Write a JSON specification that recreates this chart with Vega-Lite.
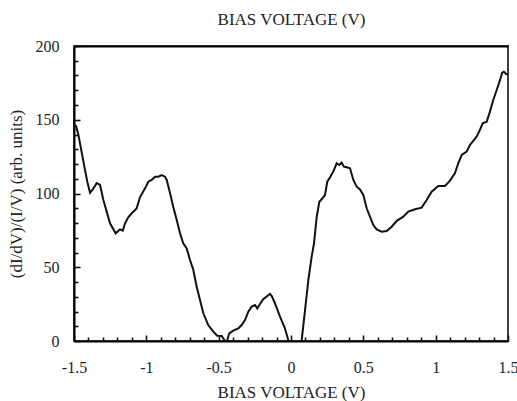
{
  "$schema": "https://vega.github.io/schema/vega-lite/v6.json",
  "width": 434,
  "height": 295,
  "autosize": {"type": "none"},
  "padding": {"left": 74, "top": 46, "right": 9, "bottom": 60},
  "background": "white",
  "config": {
    "view": {"stroke": "#000", "strokeWidth": 1.5},
    "font": "Liberation Serif",
    "axis": {"labelFont": "Liberation Serif", "titleFont": "Liberation Serif", "grid": false}
  },
  "data": {
    "values": [
      {"v": -1.5, "g": 147}, {"v": -1.485, "g": 145.5}, {"v": -1.47, "g": 140},
      {"v": -1.424, "g": 116}, {"v": -1.408, "g": 108}, {"v": -1.389, "g": 100.5},
      {"v": -1.369, "g": 103}, {"v": -1.343, "g": 107}, {"v": -1.32, "g": 105.8},
      {"v": -1.297, "g": 95.6}, {"v": -1.274, "g": 87.7}, {"v": -1.251, "g": 79.8},
      {"v": -1.212, "g": 73}, {"v": -1.182, "g": 75.7}, {"v": -1.163, "g": 74.8},
      {"v": -1.147, "g": 79.8}, {"v": -1.125, "g": 83.9}, {"v": -1.101, "g": 86.6},
      {"v": -1.067, "g": 89.9}, {"v": -1.044, "g": 97.4}, {"v": -1.009, "g": 103.5},
      {"v": -0.986, "g": 108}, {"v": -0.963, "g": 109.2}, {"v": -0.94, "g": 111.4},
      {"v": -0.917, "g": 111.4}, {"v": -0.894, "g": 112.5}, {"v": -0.871, "g": 111.4},
      {"v": -0.859, "g": 109.2}, {"v": -0.836, "g": 100.1}, {"v": -0.814, "g": 91},
      {"v": -0.79, "g": 82}, {"v": -0.767, "g": 73}, {"v": -0.745, "g": 66.2},
      {"v": -0.721, "g": 62.8}, {"v": -0.698, "g": 54.9}, {"v": -0.675, "g": 48.1},
      {"v": -0.652, "g": 36.8}, {"v": -0.629, "g": 27.8}, {"v": -0.606, "g": 18.8},
      {"v": -0.572, "g": 10.8}, {"v": -0.537, "g": 6.3}, {"v": -0.51, "g": 3.6},
      {"v": -0.479, "g": 3.4}, {"v": -0.461, "g": 0.7}, {"v": -0.445, "g": -1},
      {"v": -0.427, "g": 5.2}, {"v": -0.399, "g": 7}, {"v": -0.364, "g": 8.6},
      {"v": -0.341, "g": 10.8}, {"v": -0.318, "g": 14.2}, {"v": -0.295, "g": 19.9},
      {"v": -0.272, "g": 23.3}, {"v": -0.249, "g": 24.4}, {"v": -0.233, "g": 22.1},
      {"v": -0.214, "g": 25.1}, {"v": -0.192, "g": 28.3}, {"v": -0.164, "g": 30.5},
      {"v": -0.145, "g": 31.9}, {"v": -0.133, "g": 30.5}, {"v": -0.111, "g": 25.6},
      {"v": -0.076, "g": 16.5}, {"v": -0.042, "g": 8.6}, {"v": -0.019, "g": 0.7},
      {"v": 0.007, "g": -8}, {"v": 0.045, "g": -8}, {"v": 0.074, "g": 0.7},
      {"v": 0.097, "g": 21}, {"v": 0.12, "g": 41.4}, {"v": 0.143, "g": 57.2},
      {"v": 0.159, "g": 66.2}, {"v": 0.178, "g": 84.3}, {"v": 0.196, "g": 94.4},
      {"v": 0.212, "g": 96.1}, {"v": 0.235, "g": 99}, {"v": 0.251, "g": 108},
      {"v": 0.27, "g": 111}, {"v": 0.292, "g": 114.8}, {"v": 0.316, "g": 120.5},
      {"v": 0.334, "g": 119.3}, {"v": 0.35, "g": 120.9}, {"v": 0.366, "g": 118.2},
      {"v": 0.385, "g": 117.8}, {"v": 0.408, "g": 117.1}, {"v": 0.431, "g": 109.2},
      {"v": 0.454, "g": 104.6}, {"v": 0.477, "g": 102.8}, {"v": 0.5, "g": 99},
      {"v": 0.523, "g": 90}, {"v": 0.546, "g": 84.3}, {"v": 0.569, "g": 78.6},
      {"v": 0.592, "g": 75.7}, {"v": 0.627, "g": 74.1}, {"v": 0.661, "g": 74.6},
      {"v": 0.696, "g": 77.5}, {"v": 0.731, "g": 81.5}, {"v": 0.776, "g": 84.3},
      {"v": 0.811, "g": 87.7}, {"v": 0.857, "g": 89.3}, {"v": 0.903, "g": 90.4},
      {"v": 0.938, "g": 95.6}, {"v": 0.972, "g": 101.2}, {"v": 1.018, "g": 105.1},
      {"v": 1.064, "g": 105.1}, {"v": 1.099, "g": 108.7}, {"v": 1.133, "g": 113.7},
      {"v": 1.156, "g": 120.5}, {"v": 1.18, "g": 126.1}, {"v": 1.214, "g": 128.4},
      {"v": 1.237, "g": 132.9}, {"v": 1.283, "g": 138.5}, {"v": 1.306, "g": 143.1},
      {"v": 1.325, "g": 147.6}, {"v": 1.353, "g": 148.7}, {"v": 1.375, "g": 155.5},
      {"v": 1.398, "g": 163.4}, {"v": 1.422, "g": 170.2}, {"v": 1.445, "g": 177},
      {"v": 1.46, "g": 181.9}, {"v": 1.472, "g": 182.6}, {"v": 1.486, "g": 181},
      {"v": 1.5, "g": 181}
    ]
  },
  "resolve": {"axis": {"x": "independent", "y": "independent"}},
  "layer": [
    {
      "mark": {"type": "line", "color": "#111", "strokeWidth": 2, "clip": true},
      "encoding": {
        "x": {
          "field": "v", "type": "quantitative", "sort": null,
          "scale": {"domain": [-1.5, 1.5], "nice": false, "zero": false},
          "axis": {
            "orient": "bottom",
            "title": "BIAS VOLTAGE (V)",
            "titleFontSize": 17, "titleFontWeight": "normal", "titleColor": "#222",
            "titlePadding": 9,
            "values": [-1.5, -1, -0.5, 0, 0.5, 1, 1.5],
            "labelExpr": "replace(format(datum.value, '~g'), '\u2212', '-')",
            "labelFontSize": 16, "labelColor": "#222",
            "labelPadding": 18, "labelFlush": false, "labelOverlap": false,
            "ticks": false,
            "domainColor": "#000", "domainWidth": 2
          }
        },
        "y": {
          "field": "g", "type": "quantitative",
          "scale": {"domain": [0, 200], "nice": false},
          "axis": {
            "orient": "left",
            "title": "(dI/dV)/(I/V) (arb. units)",
            "titleFontSize": 17, "titleFontWeight": "normal", "titleColor": "#222",
            "titlePadding": 10,
            "values": [0, 50, 100, 150, 200],
            "labelFontSize": 16, "labelColor": "#222",
            "labelPadding": 15, "labelFlush": false, "labelOverlap": false,
            "ticks": false,
            "domainColor": "#000", "domainWidth": 2
          }
        }
      }
    },
    {
      "mark": {"type": "line", "strokeOpacity": 0, "clip": true},
      "encoding": {
        "x": {
          "field": "v", "type": "quantitative", "sort": null,
          "axis": {
            "orient": "bottom", "offset": -6, "title": null,
            "values": [-1.5, -1, -0.5, 0, 0.5, 1, 1.5],
            "labels": false, "domain": false,
            "tickSize": 6, "tickWidth": 1.6, "tickColor": "#111"
          }
        },
        "y": {
          "field": "g", "type": "quantitative",
          "axis": {
            "orient": "left", "offset": -6, "title": null,
            "values": [0, 50, 100, 150, 200],
            "labels": false, "domain": false,
            "tickSize": 6, "tickWidth": 1.6, "tickColor": "#111"
          }
        }
      }
    },
    {
      "mark": {"type": "line", "strokeOpacity": 0, "clip": true},
      "encoding": {
        "x": {
          "field": "v", "type": "quantitative", "sort": null,
          "axis": {
            "orient": "bottom", "offset": -4, "title": null,
            "values": [-1.4, -1.3, -1.2, -1.1, -0.9, -0.8, -0.7, -0.6, -0.4, -0.3, -0.2, -0.1, 0.1, 0.2, 0.3, 0.4, 0.6, 0.7, 0.8, 0.9, 1.1, 1.2, 1.3, 1.4],
            "labels": false, "domain": false,
            "tickSize": 4, "tickWidth": 1.6, "tickColor": "#111"
          }
        },
        "y": {
          "field": "g", "type": "quantitative",
          "axis": {
            "orient": "left", "offset": -4, "title": null,
            "values": [10, 20, 30, 40, 60, 70, 80, 90, 110, 120, 130, 140, 160, 170, 180, 190],
            "labels": false, "domain": false,
            "tickSize": 4, "tickWidth": 1.6, "tickColor": "#111"
          }
        }
      }
    },
    {
      "mark": {"type": "line", "strokeOpacity": 0, "clip": true},
      "encoding": {
        "x": {
          "field": "v", "type": "quantitative", "sort": null,
          "axis": {
            "orient": "top",
            "title": "BIAS VOLTAGE (V)",
            "titleFontSize": 17, "titleFontWeight": "normal", "titleColor": "#222",
            "titlePadding": 18,
            "labels": false, "ticks": false,
            "domainColor": "#000", "domainWidth": 2
          }
        },
        "y": {"field": "g", "type": "quantitative", "axis": null}
      }
    }
  ]
}
